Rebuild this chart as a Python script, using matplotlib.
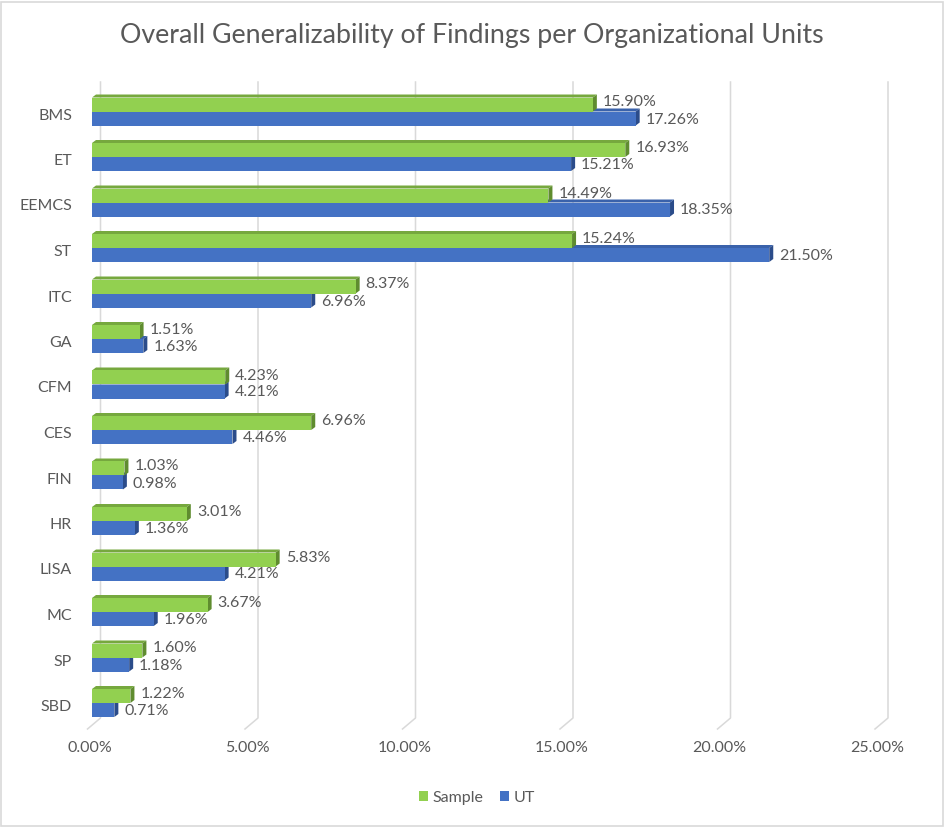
import matplotlib
matplotlib.use("Agg")
import matplotlib.pyplot as plt
from matplotlib.patches import Polygon, Rectangle, Patch
from matplotlib.lines import Line2D

units = ["BMS", "ET", "EEMCS", "ST", "ITC", "GA", "CFM", "CES", "FIN", "HR",
         "LISA", "MC", "SP", "SBD"]
sample = [15.90, 16.93, 14.49, 15.24, 8.37, 1.51, 4.23, 6.96, 1.03, 3.01,
          5.83, 3.67, 1.60, 1.22]
ut = [17.26, 15.21, 18.35, 21.50, 6.96, 1.63, 4.21, 4.46, 0.98, 1.36,
      4.21, 1.96, 1.18, 0.71]
series_names = ["Sample", "UT"]
xticks = [0, 5, 10, 15, 20, 25]

W, H = 945, 827
DPI = 100
plt.rcParams["font.family"] = ["Lato", "DejaVu Sans"]
TXT = "#595959"
FS = 11.5

fig = plt.figure(figsize=(W / DPI, H / DPI), dpi=DPI)
fig.patch.set_facecolor("white")

# plotting area in pixels (front face of the bars)
x0_px, x1_px = 92.0, 879.5
top_px, bot_px = 82.0, 718.0
row0_px, rowN_px = 111.5, 703.0
n = len(units)
px_row = (rowN_px - row0_px) / (n - 1)
ylim_top = -(row0_px - top_px) / px_row
ylim_bot = (n - 1) + (bot_px - rowN_px) / px_row

ax = fig.add_axes([x0_px / W, 1 - bot_px / H, (x1_px - x0_px) / W, (bot_px - top_px) / H])
ax.set_xlim(0, 25)
ax.set_ylim(ylim_bot, ylim_top)
for s in ax.spines.values():
    s.set_visible(False)
ax.set_xticks([])
ax.set_yticks([])

px_x = (x1_px - x0_px) / 25.0


def ux(px):
    return px / px_x


def uy(px):
    return px / px_row


# gridlines on the back wall, bending onto the floor
for v in xticks:
    xb = v + ux(8.5)
    xf = v - ux(4.5)
    ax.add_line(Line2D([xb, xb, xf], [ylim_top, ylim_bot, ylim_bot + uy(11)],
                       color="#D9D9D9", lw=1.1, clip_on=False, zorder=0))
    ax.text(xf + ux(2), ylim_bot + uy(30), f"{v:.2f}%", ha="center", va="center",
            fontsize=FS, color=TXT, clip_on=False)

h = 14.0 / px_row
ddx, ddy = ux(4), uy(3)

faces = {
    "Sample": ("#92D050", "#76A83E", "#5F8C2F"),
    "UT": ("#4472C4", "#3A62AB", "#2B4C8A"),
}


def draw_bar(yc, w, cols):
    front, topc, side = cols
    ytop, ybot = yc - h / 2, yc + h / 2
    ax.add_patch(Polygon([(0, ytop), (w, ytop), (w + ddx, ytop - ddy), (ddx, ytop - ddy)],
                         closed=True, facecolor=topc, edgecolor="none", zorder=2))
    ax.add_patch(Polygon([(w, ytop), (w, ybot), (w + ddx, ybot - ddy), (w + ddx, ytop - ddy)],
                         closed=True, facecolor=side, edgecolor="none", zorder=2))
    ax.add_patch(Rectangle((0, ytop), w, h, facecolor=front, edgecolor="none", zorder=3))


for i, name in enumerate(units):
    # lower bar first so the upper one covers its top face
    yu = i + h / 2
    ys = i - h / 2
    draw_bar(yu, ut[i], faces["UT"])
    draw_bar(ys, sample[i], faces["Sample"])
    ax.text(sample[i] + ddx + ux(6), ys - uy(2), f"{sample[i]:.2f}%", ha="left", va="center",
            fontsize=FS, color=TXT, zorder=5)
    ax.text(ut[i] + ddx + ux(6), yu + uy(1), f"{ut[i]:.2f}%", ha="left", va="center",
            fontsize=FS, color=TXT, zorder=5)
    ax.text(-ux(20), i + uy(4), name, ha="right", va="center", fontsize=FS, color=TXT,
            clip_on=False)

fig.text(472 / W, 1 - 35 / H, "Overall Generalizability of Findings per Organizational Units",
         ha="center", va="center", fontsize=19.3, color=TXT)

handles = [Patch(facecolor=faces[s][0], edgecolor="none", label=s) for s in series_names]
leg = fig.legend(handles=handles, loc="center", bbox_to_anchor=(477 / W, 1 - 798 / H),
                 ncol=2, frameon=False, fontsize=FS, handlelength=0.6, handleheight=0.6,
                 handletextpad=0.3, columnspacing=1.0)
for t in leg.get_texts():
    t.set_color(TXT)

fig.add_artist(Rectangle((1.5 / W, 1.5 / H), 1 - 3 / W, 1 - 3 / H, transform=fig.transFigure,
                         facecolor="none", edgecolor="#D9D9D9", lw=1.2))

fig.savefig("out.png", dpi=DPI)
